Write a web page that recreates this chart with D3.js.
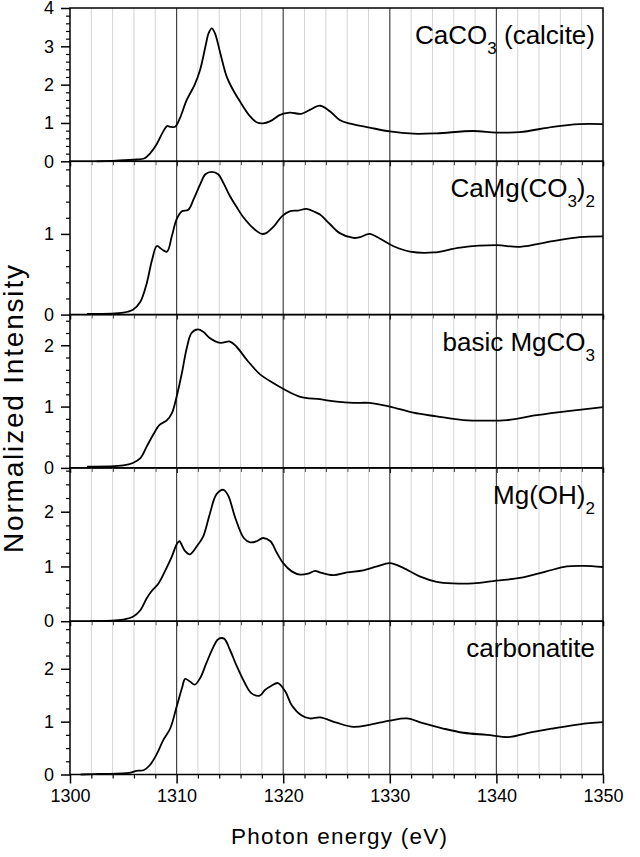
<!DOCTYPE html>
<html><head><meta charset="utf-8">
<script src="https://cdn.jsdelivr.net/npm/d3@7"></script>
<style>body{margin:0;background:#fff}svg{display:block}</style>
</head><body>
<svg id="chart" width="640" height="857"></svg>
<script>
// ---- data ----
const xTickValues = [1300, 1310, 1320, 1330, 1340, 1350];
const xTickLabels = ["1300", "1310", "1320", "1330", "1340", "1350"];
const panelYMax = [4, 1.9, 2.5, 2.8, 2.9];
const panelYTicks = [[0,1,2,3,4],[0,1],[0,1,2],[0,1,2],[0,1,2]];
const panelMinorStep = [0.2, 0.2, 0.2, 0.25, 0.25];

const calciteE = [1302.5,1304,1305.9,1307.0,1307.5,1308.1,1308.75,1309.1,1309.4,1309.85,1310.3,1310.95,1311.7,1312.2,1312.7,1313.0,1313.3,1313.6,1314.1,1314.7,1315.3,1315.95,1316.9,1317.5,1318.1,1318.8,1319.7,1320.6,1321.7,1322.5,1323.45,1324.4,1325.3,1326.3,1328.1,1330.0,1332.2,1334.4,1337.8,1340.0,1342.2,1345.3,1347.8,1350];
const calciteI = [0,0.01,0.04,0.08,0.2,0.43,0.78,0.92,0.9,0.9,1.12,1.6,2.0,2.38,2.99,3.34,3.47,3.34,2.82,2.21,1.86,1.56,1.17,1.02,0.99,1.05,1.21,1.27,1.24,1.34,1.45,1.3,1.08,0.98,0.88,0.78,0.72,0.73,0.79,0.75,0.76,0.9,0.97,0.97];

const dolomiteE = [1301.6,1305.0,1305.9,1306.6,1307.2,1307.7,1308.15,1308.6,1309.1,1309.55,1310.0,1310.5,1311.1,1311.6,1312.2,1312.7,1313.3,1313.9,1314.4,1315.0,1315.6,1316.3,1317.2,1318.0,1318.4,1319.1,1319.9,1320.6,1321.4,1322.2,1323.0,1323.45,1324.4,1325.3,1326.6,1327.2,1328.1,1329.1,1330.3,1331.9,1334.1,1336.6,1340.0,1342.2,1345.3,1347.8,1350];
const dolomiteI = [0.01,0.025,0.06,0.16,0.39,0.68,0.85,0.81,0.78,0.97,1.18,1.28,1.3,1.43,1.61,1.74,1.77,1.74,1.63,1.47,1.34,1.2,1.07,1.0,1.01,1.09,1.22,1.28,1.29,1.31,1.27,1.24,1.12,1.01,0.95,0.96,1.0,0.94,0.85,0.78,0.77,0.83,0.86,0.84,0.91,0.96,0.97];

const basicMgE = [1301.6,1305.0,1305.9,1306.6,1307.2,1307.8,1308.4,1309.1,1309.55,1310.0,1310.5,1310.95,1311.4,1312.0,1312.5,1313.1,1314.1,1315.0,1315.6,1316.6,1317.8,1319.1,1320.0,1321.6,1323.45,1325.0,1326.6,1328.1,1330.0,1332.2,1334.4,1336.9,1339.1,1341.0,1343.8,1346.9,1350];
const basicMgI = [0.02,0.04,0.08,0.16,0.35,0.54,0.70,0.78,0.89,1.16,1.55,1.95,2.2,2.26,2.22,2.12,2.04,2.06,1.98,1.76,1.53,1.38,1.29,1.16,1.12,1.08,1.06,1.06,1.0,0.9,0.84,0.78,0.77,0.78,0.86,0.93,0.99];

const bruciteE = [1301.9,1305.0,1305.9,1306.6,1307.2,1307.7,1308.3,1308.9,1309.55,1310.0,1310.25,1310.8,1311.25,1311.9,1312.5,1313.1,1313.75,1314.4,1314.85,1315.5,1316.3,1316.9,1317.5,1318.1,1318.8,1319.4,1320.0,1320.8,1321.6,1322.35,1323.0,1323.45,1324.7,1326.0,1327.5,1328.8,1330.0,1331.3,1332.8,1334.4,1335.95,1337.8,1340.0,1342.2,1344.7,1346.6,1348.2,1350];
const bruciteI = [0,0.03,0.08,0.2,0.42,0.56,0.69,0.91,1.18,1.4,1.46,1.28,1.22,1.37,1.55,1.95,2.32,2.4,2.29,1.89,1.52,1.44,1.46,1.52,1.46,1.25,1.06,0.91,0.85,0.87,0.92,0.89,0.84,0.89,0.93,1.0,1.06,0.97,0.82,0.72,0.69,0.69,0.74,0.79,0.91,1.0,1.01,0.99];

const carbonatiteE = [1301.0,1302.8,1305.6,1306.25,1306.9,1307.5,1308.1,1308.75,1309.4,1310.0,1310.5,1310.8,1311.25,1311.7,1312.2,1312.8,1313.4,1313.9,1314.45,1315.0,1315.6,1316.4,1317.0,1317.8,1318.3,1318.9,1319.5,1320.2,1320.8,1321.7,1322.5,1323.45,1325.0,1326.6,1328.1,1330.0,1331.6,1333.1,1335.0,1336.9,1339.1,1341.3,1342.8,1345.3,1347.8,1350];
const carbonatiteI = [0,0.01,0.03,0.07,0.08,0.18,0.37,0.65,0.87,1.28,1.63,1.81,1.76,1.7,1.82,2.11,2.39,2.56,2.57,2.36,2.07,1.73,1.54,1.49,1.6,1.68,1.73,1.57,1.31,1.12,1.06,1.08,0.98,0.9,0.94,1.02,1.06,0.97,0.87,0.79,0.75,0.71,0.78,0.87,0.95,0.99];

// labels: array of [text, isSubscript]
const panelLabels = [
  [["CaCO",0],["3",1],[" (calcite)",0]],
  [["CaMg(CO",0],["3",1],[")",0],["2",1]],
  [["basic MgCO",0],["3",1]],
  [["Mg(OH)",0],["2",1]],
  [["carbonatite",0]]
];
const seriesE = [calciteE, dolomiteE, basicMgE, bruciteE, carbonatiteE];
const seriesI = [calciteI, dolomiteI, basicMgI, bruciteI, carbonatiteI];

// ---- layout ----
const svg = d3.select("#chart");
const plotLeft = 70, plotRight = 603, plotTop = 8, panelH = 153.3;
const font = "'Liberation Sans', Arial, sans-serif";
const x = d3.scaleLinear().domain([1300, 1350]).range([plotLeft, plotRight]);
const minorX = d3.range(1302, 1350, 2).filter(v => v % 10 !== 0);
const majorX = [1310, 1320, 1330, 1340];

panelYMax.forEach((ymax, p) => {
  const y0 = plotTop + p * panelH, y1 = y0 + panelH;
  const y = d3.scaleLinear().domain([0, ymax]).range([y1, y0]);
  const g = svg.append("g");

  // grid
  g.selectAll(".gm").data(minorX).join("line")
    .attr("x1", d => x(d)).attr("x2", d => x(d)).attr("y1", y0).attr("y2", y1)
    .attr("stroke", "#d4d4d4").attr("stroke-width", 1);
  g.selectAll(".gM").data(majorX).join("line")
    .attr("x1", d => x(d)).attr("x2", d => x(d)).attr("y1", y0).attr("y2", y1)
    .attr("stroke", "#444").attr("stroke-width", 1.2);

  // data line
  const pts = seriesE[p].map((e, i) => [e, seriesI[p][i]]);
  g.append("path").datum(pts)
    .attr("fill", "none").attr("stroke", "#000").attr("stroke-width", 1.8)
    .attr("stroke-linejoin", "round")
    .attr("d", d3.line().x(d => x(d[0])).y(d => y(d[1])).curve(d3.curveCatmullRom.alpha(0.5)));

  // y axis (left)
  const minorY = d3.range(0, ymax + 1e-9, panelMinorStep[p]).filter(v => Math.abs(v - Math.round(v)) > 1e-6);
  const yAxis = g.append("g").attr("transform", `translate(${plotLeft},0)`)
    .call(d3.axisLeft(y).tickValues(panelYTicks[p]).tickFormat(d3.format("d")).tickSize(9).tickPadding(7));
  yAxis.select(".domain").remove();
  yAxis.selectAll("line").attr("stroke-width", 1.5);
  yAxis.selectAll("text").attr("font-family", font).attr("font-size", 18).attr("fill", "#000");
  g.append("g").attr("transform", `translate(${plotLeft},0)`)
    .call(d3.axisLeft(y).tickValues(minorY).tickFormat("").tickSize(4))
    .call(s => { s.select(".domain").remove(); s.selectAll("line").attr("stroke-width", 1.2); });

  // x axis ticks at bottom of each panel (outward)
  const last = p === panelYMax.length - 1;
  const xAxis = g.append("g").attr("transform", `translate(0,${y1})`)
    .call(d3.axisBottom(x).tickValues(xTickValues).tickSize(last ? 9 : 5).tickPadding(6)
      .tickFormat((d, i) => last ? xTickLabels[i] : ""));
  xAxis.select(".domain").remove();
  xAxis.selectAll("line").attr("stroke-width", 1.5);
  xAxis.selectAll("text").attr("font-family", font).attr("font-size", 18).attr("fill", "#000");
  g.append("g").attr("transform", `translate(0,${y1})`)
    .call(d3.axisBottom(x).tickValues(minorX).tickFormat("").tickSize(4))
    .call(s => { s.select(".domain").remove(); s.selectAll("line").attr("stroke-width", 1.2); });

  // frame
  g.append("rect").attr("x", plotLeft).attr("y", y0).attr("width", plotRight - plotLeft).attr("height", panelH)
    .attr("fill", "none").attr("stroke", "#000").attr("stroke-width", 1.5);

  // label
  const t = g.append("text").attr("x", 595).attr("y", y0 + 36)
    .attr("text-anchor", "end").attr("font-family", font).attr("font-size", 26).attr("fill", "#000");
  let shifted = false;
  panelLabels[p].forEach(([txt, sub]) => {
    const ts = t.append("tspan").text(txt);
    if (sub && !shifted) { ts.attr("dy", 10).attr("font-size", 17); shifted = true; }
    else if (sub && shifted) { ts.attr("font-size", 17); }
    else if (!sub && shifted) { ts.attr("dy", -10); shifted = false; }
  });
});

// axis titles
svg.append("text").attr("x", 339).attr("y", 844).attr("text-anchor", "middle")
  .attr("font-family", font).attr("font-size", 22.5).attr("textLength", 216).attr("lengthAdjust", "spacing")
  .text("Photon energy (eV)");
svg.append("text").attr("transform", "translate(23,409) rotate(-90)").attr("text-anchor", "middle")
  .attr("font-family", font).attr("font-size", 28).attr("textLength", 288).attr("lengthAdjust", "spacing")
  .text("Normalized Intensity");
</script>
</body></html>
